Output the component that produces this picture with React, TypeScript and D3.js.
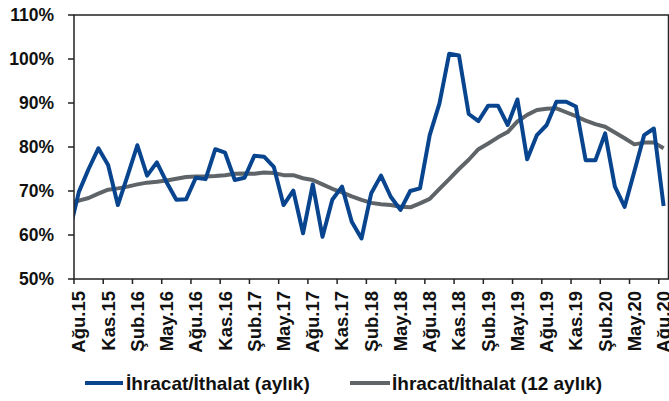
import * as d3 from "d3";
import React from "react";

const W = 669;
const H = 401;
const plot = { left: 74, right: 668.5, top: 15, bottom: 279 };

// Tem.15 is only a lead-in point, it sits left of the axis and gets clipped
const months = [
  "Tem.15", "Ağu.15", "Eyl.15", "Eki.15", "Kas.15", "Ara.15",
  "Oca.16", "Şub.16", "Mar.16", "Nis.16", "May.16", "Haz.16", "Tem.16", "Ağu.16", "Eyl.16", "Eki.16", "Kas.16", "Ara.16",
  "Oca.17", "Şub.17", "Mar.17", "Nis.17", "May.17", "Haz.17", "Tem.17", "Ağu.17", "Eyl.17", "Eki.17", "Kas.17", "Ara.17",
  "Oca.18", "Şub.18", "Mar.18", "Nis.18", "May.18", "Haz.18", "Tem.18", "Ağu.18", "Eyl.18", "Eki.18", "Kas.18", "Ara.18",
  "Oca.19", "Şub.19", "Mar.19", "Nis.19", "May.19", "Haz.19", "Tem.19", "Ağu.19", "Eyl.19", "Eki.19", "Kas.19", "Ara.19",
  "Oca.20", "Şub.20", "Mar.20", "Nis.20", "May.20", "Haz.20", "Tem.20", "Ağu.20",
];

const monthly = [
  60.5, 69.8, 75.0, 79.7, 75.9, 66.8,
  73.5, 80.4, 73.5, 76.5, 72.0, 68.0, 68.1, 73.0, 72.7, 79.5, 78.7, 72.5,
  73.0, 78.0, 77.8, 75.5, 66.8, 70.1, 60.4, 71.5, 59.6, 68.0, 71.0, 63.0,
  59.2, 69.5, 73.5, 68.7, 65.7, 70.0, 70.6, 82.7, 89.9, 101.2, 100.8, 87.5,
  85.9, 89.4, 89.4, 85.0, 90.8, 77.2, 82.7, 85.0, 90.3, 90.3, 89.2, 77.0,
  77.0, 83.1, 71.0, 66.4, 74.5, 82.7, 84.2, 66.6,
];

const rolling = [
  67.3, 67.8, 68.4, 69.4, 70.3, 70.6,
  71.0, 71.5, 71.9, 72.1, 72.4, 72.8, 73.2, 73.3, 73.3, 73.4, 73.6, 73.9,
  74.0, 73.9, 74.2, 74.1, 73.6, 73.6, 72.9, 72.5, 71.5, 70.5, 69.7, 68.8,
  68.0, 67.3, 67.0, 66.8, 66.4, 66.3, 67.2, 68.2, 70.5, 72.7, 75.0, 77.1,
  79.5, 80.8, 82.2, 83.4, 85.8, 87.3, 88.4, 88.7, 88.8, 87.9, 87.0, 86.0,
  85.2, 84.6, 83.3, 82.0, 80.6, 81.0, 81.0, 79.7,
];

const yTicks = [50, 60, 70, 80, 90, 100, 110];
const seriesNames = ["İhracat/İthalat (aylık)", "İhracat/İthalat (12 aylık)"];
const colors = ["#08458e", "#5f6469"];

const font = "'Liberation Sans', Arial, sans-serif";

export default function App() {
  const x = d3.scaleLinear().domain([0.5, months.length - 0.5]).range([plot.left, plot.right]);
  const y = d3.scaleLinear().domain([50, 110]).range([plot.bottom, plot.top]);

  const line = d3
    .line<number>()
    .x((_, i) => x(i))
    .y((d) => y(d));

  // label every 3rd month starting at Ağu.15
  const labelIdx = d3.range(1, months.length, 3);

  return (
    <svg width={W} height={H} style={{ position: "absolute", left: 0, top: 0, background: "#fff" }} fontFamily={font}>
      <defs>
        <clipPath id="plotClip">
          <rect x={plot.left} y={plot.top} width={plot.right - plot.left} height={plot.bottom - plot.top} />
        </clipPath>
      </defs>

      <g clipPath="url(#plotClip)" fill="none" strokeWidth={4} strokeLinejoin="round">
        <path d={line(rolling) || ""} stroke={colors[1]} />
        <path d={line(monthly) || ""} stroke={colors[0]} />
      </g>

      {/* frame */}
      <rect
        x={plot.left}
        y={plot.top}
        width={plot.right - plot.left}
        height={plot.bottom - plot.top}
        fill="none"
        stroke="#222"
        strokeWidth={1.5}
      />

      {/* y axis */}
      <g>
        {yTicks.map((t) => (
          <g key={t}>
            <line x1={plot.left - 6} x2={plot.left} y1={y(t)} y2={y(t)} stroke="#222" strokeWidth={1.5} />
            <text x={54} y={y(t)} dy="0.35em" textAnchor="end" fontSize={17.5} fontWeight="bold" fill="#111">
              {t}%
            </text>
          </g>
        ))}
      </g>

      {/* x axis */}
      <g>
        {labelIdx.map((i) => (
          <g key={months[i]}>
            <line x1={x(i - 0.5)} x2={x(i - 0.5)} y1={plot.bottom} y2={plot.bottom + 5} stroke="#222" strokeWidth={1.5} />
            <text
              transform={`translate(${x(i)},${plot.bottom + 12}) rotate(-90)`}
              dy="0.35em"
              textAnchor="end"
              fontSize={18.5}
              fontWeight="bold"
              fill="#111"
            >
              {months[i]}
            </text>
          </g>
        ))}
      </g>

      {/* legend */}
      <g fontSize={19} fontWeight="bold" fill="#111">
        <line x1={85} x2={123} y1={383} y2={383} stroke={colors[0]} strokeWidth={4} />
        <text x={126} y={383} dy="0.35em">{seriesNames[0]}</text>
        <line x1={350} x2={390} y1={383} y2={383} stroke={colors[1]} strokeWidth={4} />
        <text x={392} y={383} dy="0.35em">{seriesNames[1]}</text>
      </g>
    </svg>
  );
}
